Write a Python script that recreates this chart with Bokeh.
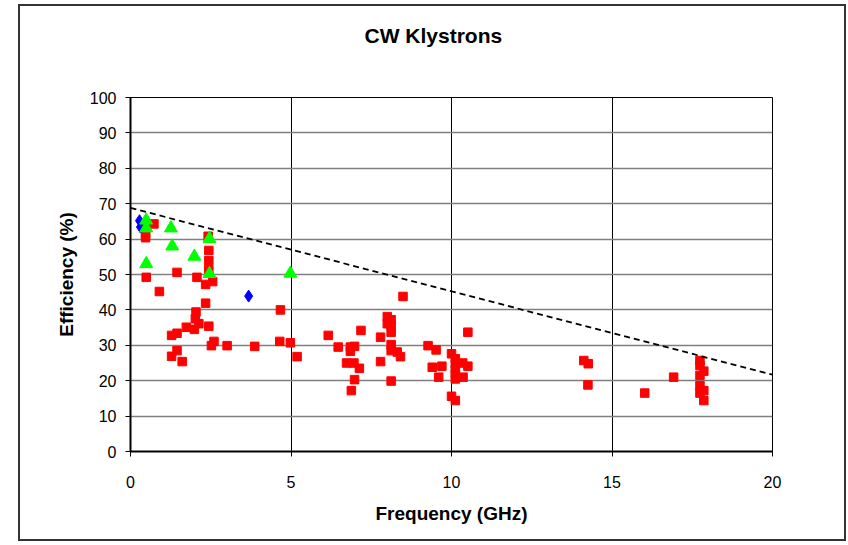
from bokeh.plotting import figure
from bokeh.models import Range1d, FixedTicker, Title
from bokeh.embed import file_html
from bokeh.resources import INLINE

title_text = "CW Klystrons"
x_label = "Frequency (GHz)"
y_label = "Efficiency (%)"
x_ticks = [0, 5, 10, 15, 20]
y_ticks = [0, 10, 20, 30, 40, 50, 60, 70, 80, 90, 100]

red_f = [0.73, 0.47, 0.47, 0.47, 2.42, 2.44, 2.44, 2.44, 1.45, 0.49, 2.07, 2.34, 2.56, 0.90,
         2.34, 2.04, 2.02, 2.13, 1.99, 1.74, 2.44, 1.45, 1.28, 2.60, 2.52, 3.01, 3.87, 1.45,
         1.28, 1.61, 4.67, 4.65, 4.98, 5.19, 6.16, 6.47, 6.85, 6.98, 6.85, 6.73, 6.96, 7.13,
         7.18, 6.98, 6.88, 8.49, 8.00, 8.12, 8.00, 8.12, 8.12, 7.79, 8.12, 8.12, 8.31, 8.41,
         7.79, 8.12, 9.27, 9.52, 10.00, 10.12, 10.35, 10.12, 9.40, 9.70, 10.12, 10.51, 10.12,
         9.60, 10.36, 10.12, 10.00, 10.12, 10.51, 14.12, 14.26, 14.25, 16.02, 16.92, 17.74,
         17.74, 17.86, 17.74, 17.74, 17.86, 17.74, 17.86]
red_e = [64.3, 63.0, 61.5, 60.4, 60.8, 56.8, 53.9, 51.4, 50.6, 49.2, 49.2, 47.2, 48.0, 45.2,
         41.9, 39.4, 37.5, 36.1, 34.5, 35.1, 35.4, 33.4, 32.8, 31.1, 29.9, 29.9, 29.7, 28.5,
         26.9, 25.4, 40.0, 31.1, 30.7, 26.8, 32.8, 29.5, 29.5, 29.7, 28.3, 25.0, 25.0, 23.5,
         34.2, 20.3, 17.2, 43.8, 38.1, 37.2, 36.1, 35.6, 33.7, 32.3, 30.2, 28.5, 28.1, 26.8,
         25.4, 19.9, 29.9, 28.7, 27.6, 26.2, 25.0, 24.8, 23.8, 24.1, 23.2, 24.1, 21.9,
         21.0, 21.0, 20.5, 15.6, 14.4, 33.7, 25.7, 24.8, 18.8, 16.5, 21.0, 25.7,
         24.3, 22.7, 21.5, 18.6, 17.2, 16.5, 14.4]

blue_f = [0.28, 0.31, 3.68]
blue_e = [65.2, 63.4, 43.9]

green_f = [0.49, 0.49, 1.26, 1.30, 1.99, 2.46, 0.49, 2.46, 4.98]
green_e = [65.3, 63.1, 63.1, 58.0, 55.1, 60.1, 53.0, 50.2, 50.3]

limit_f = [0, 20]
limit_e = [68.8, 21.7]

FONT = "Liberation Sans"

p = figure(frame_width=642, frame_height=354,
           min_border_left=110, min_border_right=72, min_border_top=91, min_border_bottom=88,
           x_range=Range1d(0, 20), y_range=Range1d(0, 100),
           output_backend="svg", toolbar_location=None, tools="")
p.styles = {"margin-left": "18px", "margin-top": "4px", "border": "2px solid #333333"}

# spacer panel between frame and title
p.add_layout(Title(text=" ", text_font_size="1px", standoff=43), "above")

p.title.text = title_text
p.title.align = "left"
p.title.offset = 234
p.title.vertical_align = "bottom"
p.title.standoff = 10
p.title.text_font = FONT
p.title.text_font_size = "21px"
p.title.text_font_style = "bold"
p.title.text_color = "black"

p.background_fill_color = "white"
p.border_fill_color = "white"
p.outline_line_color = "black"
p.outline_line_width = 1

p.xaxis.ticker = FixedTicker(ticks=x_ticks)
p.yaxis.ticker = FixedTicker(ticks=y_ticks)
p.xgrid.ticker = FixedTicker(ticks=x_ticks)
p.ygrid.ticker = FixedTicker(ticks=y_ticks)
p.xgrid.grid_line_color = "black"
p.xgrid.grid_line_width = 1
p.ygrid.grid_line_color = "#808080"
p.ygrid.grid_line_width = 1.5

for ax in (p.xaxis, p.yaxis):
    ax.axis_line_color = "black"
    ax.axis_line_width = 2
    ax.major_tick_line_color = "black"
    ax.major_tick_in = 0
    ax.major_tick_out = 5
    ax.minor_tick_line_color = None
    ax.major_label_text_font = FONT
    ax.major_label_text_font_size = "16px"
    ax.major_label_text_color = "black"
    ax.axis_label_text_font = FONT
    ax.axis_label_text_font_size = "19px"
    ax.axis_label_text_font_style = "bold"
    ax.axis_label_text_color = "black"

p.xaxis.axis_label = x_label
p.yaxis.axis_label = y_label
p.xaxis.major_label_standoff = 19
p.yaxis.major_label_standoff = 9
p.xaxis.axis_label_standoff = 12
p.yaxis.axis_label_standoff = 10

p.scatter(red_f, red_e, marker="square", size=8.5, fill_color="#FF0000", line_color="#FF0000")
p.scatter(blue_f, blue_e, marker="diamond", size=12, fill_color="#0000FF", line_color="#0000FF")
p.scatter(green_f, green_e, marker="triangle", size=13, fill_color="#00FF00", line_color="#00FF00")
p.line(limit_f, limit_e, line_color="black", line_width=1.8, line_dash="6 4")

open("out.html", "w").write(file_html(p, INLINE))
